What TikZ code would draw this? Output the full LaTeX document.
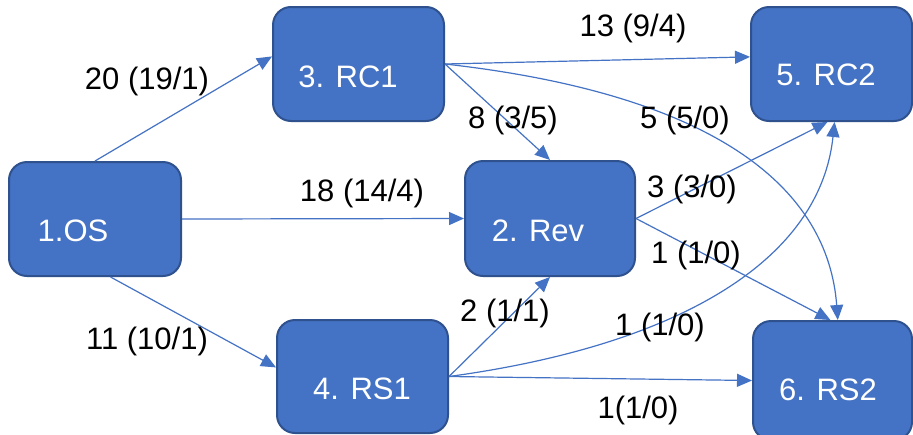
\documentclass[tikz,border=0pt]{standalone}
\usepackage{fontspec}
\setmainfont{Liberation Sans}
\usetikzlibrary{arrows.meta}
\definecolor{obox}{HTML}{4472C4}
\definecolor{oedge}{HTML}{2F528F}
\begin{document}
\begin{tikzpicture}[x=0.5pt,y=-0.5pt,
  box/.style={draw=oedge, line width=1pt, fill=obox, rounded corners=9pt, inner sep=0pt},
  boxtext/.style={text=white, font=\fontsize{15.5}{18}\selectfont, inner sep=0pt},
  lbl/.style={text=black, font=\fontsize{15.5}{18}\selectfont, inner sep=0pt},
  conn/.style={draw=obox, line width=0.6pt, -{Triangle[length=7.5pt,width=6.5pt]}}
]
\fill[white] (0,0) rectangle (913,434);
\useasboundingbox (0,0) rectangle (913,434);
\clip (0,0) rectangle (913,434);

% boxes
\node[box, minimum width=86pt, minimum height=57pt] (os) at (95,219) {};
\node[box, minimum width=85.5pt, minimum height=57pt] (rc1) at (358.5,64) {};
\node[box, minimum width=85pt, minimum height=57.5pt] (rev) at (550,218.5) {};
\node[box, minimum width=80.5pt, minimum height=57pt] (rc2) at (831.5,64) {};
\node[box, minimum width=85.5pt, minimum height=56.5pt] (rs1) at (362.5,376.5) {};
\node[box, minimum width=79.5pt, minimum height=59.5pt] (rs2) at (832.5,380.5) {};

% box texts
\node[boxtext] (ost) at (73,231) {1.OS};
\node[boxtext] (rc1t) at (348,77) {3. RC1};
\node[boxtext] (revt) at (538,231) {2. Rev};
\node[boxtext] (rc2t) at (826,75) {5. RC2};
\node[boxtext] (rs1t) at (362,389) {4. RS1};
\node[boxtext] (rs2t) at (828,390) {6. RS2};

% connectors
\draw[conn] (os.north) -- (rc1.175);
\draw[conn] (os.east) -- (rev.west);
\draw[conn] (os.285) -- (rs1.174);
\draw[conn] (rc1.east) -- (rc2.175);
\draw[conn] (rc1.east) -- (rev.north);
\draw[conn] (rc1.east) .. controls (720,95) and (828,190) .. (rs2.85);
\draw[conn] (rev.east) -- (rc2.266);
\draw[conn] (rev.east) -- (rs2.92);
\draw[conn] (rs1.east) -- (rev.south);
\draw[conn] (rs1.east) .. controls (680,345) and (820,260) .. (rc2.273);
\draw[conn] (rs1.east) -- (rs2.west);

% labels
\node[lbl] (l1) at (147,81) {20 (19/1)};
\node[lbl] (l2) at (362,193) {18 (14/4)};
\node[lbl] (l3) at (147,341) {11 (10/1)};
\node[lbl] (l4) at (633,28) {13 (9/4)};
\node[lbl] (l5) at (513,120) {8 (3/5)};
\node[lbl] (l6) at (685,120) {5 (5/0)};
\node[lbl] (l7) at (692,189) {3 (3/0)};
\node[lbl] (l8) at (696,255) {1 (1/0)};
\node[lbl] (l9) at (505,313) {2 (1/1)};
\node[lbl] (l10) at (660,327) {1 (1/0)};
\node[lbl] (l11) at (638,410) {1(1/0)};
\end{tikzpicture}
\end{document}
